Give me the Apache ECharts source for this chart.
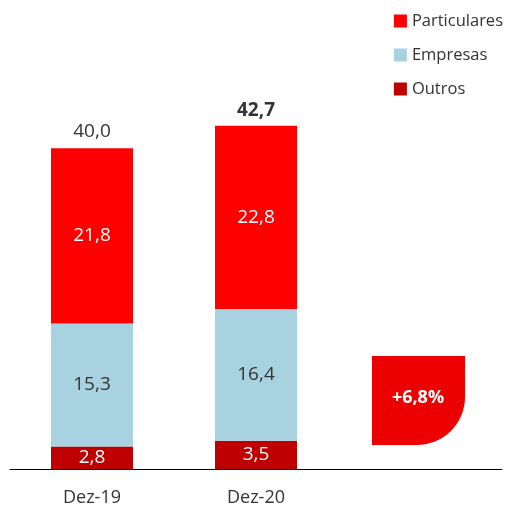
<!DOCTYPE html>
<html>
<head>
<meta charset="utf-8">
<script src="https://cdn.jsdelivr.net/npm/echarts@6/dist/echarts.min.js"></script>
<style>
  html, body { margin: 0; padding: 0; background: #fff; }
  #chart { width: 508px; height: 511px; }
</style>
</head>
<body>
<div id="chart"></div>
<script>
const categorias = ['Dez-19', 'Dez-20', '']
const particulares = [21.8, 22.8, null]
const empresas = [15.3, 16.4, null]
const outros = [2.8, 3.5, null]
const totais = [40.0, 42.7, null]
const variacao = '+6,8%'

const fmt = (v) => v.toFixed(1).replace('.', ',')
const fonte = 'Open Sans'

const myChart = echarts.init(document.getElementById('chart'), null, { renderer: 'canvas' })

let option = {
	animation: false,
	textStyle: { fontFamily: fonte },
	legend: {
		orient: 'vertical',
		right: 0,
		top: 5,
		itemWidth: 13,
		itemHeight: 13,
		itemGap: 12,
		icon: 'rect',
		data: ['Particulares', 'Empresas', 'Outros'],
		textStyle: { fontSize: 16.5, color: '#333', fontFamily: fonte, lineHeight: 22 },
	},
	grid: { left: 10, right: 6, top: 67, bottom: 42 },
	xAxis: {
		type: 'category',
		data: categorias,
		axisLine: { lineStyle: { color: '#000', width: 1 } },
		axisTick: { show: false },
		axisLabel: { fontSize: 18, color: '#333', margin: 20, fontFamily: fonte },
	},
	yAxis: {
		type: 'value',
		min: 0,
		max: 50,
		show: false,
		splitLine: { show: false },
	},
	series: [
		{
			name: 'Outros',
			type: 'bar',
			stack: 'total',
			barWidth: 82,
			data: outros,
			itemStyle: { color: '#BE0000' },
			label: { show: true, position: 'inside', color: '#fff', fontSize: 19, formatter: (p) => fmt(p.value) },
		},
		{
			name: 'Empresas',
			type: 'bar',
			stack: 'total',
			data: empresas,
			itemStyle: { color: '#A8D2E0' },
			label: { show: true, position: 'inside', color: '#333', fontSize: 19, formatter: (p) => fmt(p.value) },
		},
		{
			name: 'Particulares',
			type: 'bar',
			stack: 'total',
			data: particulares,
			itemStyle: { color: '#FF0000' },
			label: { show: true, position: 'inside', color: '#fff', fontSize: 19, formatter: (p) => fmt(p.value) },
		},
		{
			name: 'Total',
			type: 'scatter',
			symbolSize: 0,
			itemStyle: { opacity: 1 },
			data: totais.map((v, i) => ({
				value: v,
				label: { fontWeight: i === 1 ? 'bold' : 'normal' },
			})),
			label: { show: true, position: 'top', distance: 6, color: '#333', opacity: 1, fontSize: 19, formatter: (p) => fmt(p.value) },
			tooltip: { show: false },
		},
	],
	graphic: [
		{
			type: 'group',
			left: 372,
			top: 356,
			children: [
				{
					type: 'rect',
					shape: { x: 0, y: 0, width: 93, height: 89, r: [0, 0, 48, 0] },
					style: { fill: '#EC0000' },
				},
				{
					type: 'text',
					x: 46,
					y: 42,
					style: { text: variacao, fill: '#fff', font: 'bold 18px "Open Sans"', textAlign: 'center', textVerticalAlign: 'middle' },
				},
			],
		},
	],
}
myChart.setOption(option)

window.addEventListener('resize', () => {
	myChart.resize()
})
</script>
</body>
</html>
